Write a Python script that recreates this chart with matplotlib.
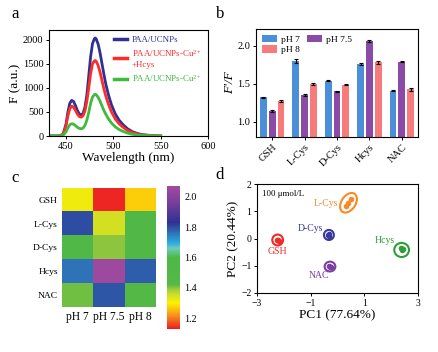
import matplotlib
matplotlib.use("Agg")
import matplotlib.pyplot as plt
import numpy as np
from matplotlib.colors import LinearSegmentedColormap
from matplotlib.patches import Ellipse

plt.rcParams['font.family'] = ['Liberation Serif', 'DejaVu Serif']
plt.rcParams['mathtext.fontset'] = 'custom'
plt.rcParams['mathtext.rm'] = 'Liberation Serif'
plt.rcParams['mathtext.it'] = 'Liberation Serif:italic'

# ---------------- data ----------------
# panel a: fluorescence spectra
wavelength = [430, 440, 444, 447, 450, 452, 454, 456, 458, 460, 462, 464, 466, 468, 470,
              472, 474, 476, 478, 480, 481, 482, 484, 486, 488, 490, 492, 495, 498, 502,
              506, 510, 515, 520, 525, 530, 540, 550]
f_ucnps = [0, 0, 5, 40, 250, 500, 680, 740, 715, 630, 530, 460, 435, 470, 600,
           850, 1250, 1650, 1920, 2020, 2035, 2010, 1900, 1720, 1500, 1280, 1080, 840, 650, 460,
           330, 240, 150, 90, 55, 30, 10, 0]
f_cu_hcys = [0, 0, 4, 35, 210, 420, 570, 620, 600, 530, 455, 405, 390, 420, 520,
             720, 1000, 1300, 1500, 1560, 1565, 1545, 1460, 1320, 1150, 980, 830, 650, 500, 355,
             255, 185, 115, 70, 42, 22, 8, 0]
f_cu = [0, 0, 2, 15, 90, 170, 235, 255, 245, 215, 180, 158, 148, 165, 220,
        330, 490, 680, 810, 860, 865, 855, 800, 720, 625, 530, 450, 350, 270, 190,
        135, 98, 60, 36, 22, 12, 4, 0]
spectra_labels = ["PAA/UCNPs", "PAA/UCNPs-Cu$^{2+}$\n+Hcys", "PAA/UCNPs-Cu$^{2+}$"]

# panel b / c: F'/F ratios
analytes = ["GSH", "L-Cys", "D-Cys", "Hcys", "NAC"]
ph_labels = ["pH 7", "pH 7.5", "pH 8"]
ratio_ph7 = [1.32, 1.80, 1.54, 1.76, 1.41]
ratio_ph75 = [1.14, 1.35, 1.40, 2.06, 1.79]
ratio_ph8 = [1.27, 1.50, 1.49, 1.78, 1.43]
err_ph7 = [0.01, 0.03, 0.01, 0.01, 0.01]
err_ph75 = [0.01, 0.01, 0.01, 0.01, 0.01]
err_ph8 = [0.01, 0.01, 0.01, 0.02, 0.02]

# panel d: PCA scores
pca_names = ["GSH", "L-Cys", "D-Cys", "NAC", "Hcys"]
pc1 = {"GSH": [-2.27, -2.20, -2.18], "L-Cys": [0.30, 0.40, 0.52],
       "D-Cys": [-0.34, -0.30, -0.33], "NAC": [-0.31, -0.26, -0.27],
       "Hcys": [2.35, 2.45, 2.40]}
pc2 = {"GSH": [-0.04, -0.05, -0.08], "L-Cys": [1.18, 1.30, 1.45],
       "D-Cys": [0.12, 0.16, 0.10], "NAC": [-1.02, -1.03, -1.06],
       "Hcys": [-0.36, -0.38, -0.44]}
ellipse_center = {"GSH": (-2.23, -0.055), "L-Cys": (0.41, 1.31), "D-Cys": (-0.32, 0.13),
                  "NAC": (-0.28, -1.03), "Hcys": (2.39, -0.42)}
pca_colors = {"GSH": "#ee2a2a", "L-Cys": "#f7892a", "D-Cys": "#3a3a9e",
              "NAC": "#7a3fa0", "Hcys": "#2f9e3a"}

fig = plt.figure(figsize=(4.38, 3.52), dpi=100)
W, H = 438.0, 352.0

def rect(l, t, r, b):
    return [l / W, 1 - b / H, (r - l) / W, (b - t) / H]

tick_fs = 7.5
lab_fs = 9.5

# ---------------- panel a ----------------
axa = fig.add_axes(rect(49, 30, 208, 136))
cols_a = ["#2e3192", "#ff2a2a", "#3dbb3d"]
for y, c, lab in zip([f_ucnps, f_cu_hcys, f_cu], cols_a, spectra_labels):
    axa.plot(wavelength, y, color=c, lw=2.0, label=lab)
axa.set_xlim(432, 600)
axa.set_ylim(0, 2200)
axa.set_xticks([450, 500, 550, 600])
axa.set_yticks([0, 500, 1000, 1500, 2000])
axa.tick_params(labelsize=tick_fs, length=2.5, width=0.7, pad=1.5)
axa.set_xlabel("Wavelength (nm)", fontsize=lab_fs, labelpad=1)
axa.set_ylabel("F (a.u.)", fontsize=lab_fs, labelpad=1)
leg = axa.legend(loc="upper right", frameon=False, fontsize=6.4, handlelength=1.5,
                 handletextpad=0.5, labelspacing=0.45, borderaxespad=0.3)
for t, c in zip(leg.get_texts(), cols_a):
    t.set_color(c)
for l in leg.get_lines():
    l.set_linewidth(2.5)

# ---------------- panel b ----------------
axb = fig.add_axes(rect(256, 29, 418, 137))
x = np.arange(len(analytes))
bw = 0.21
bar_cols = ["#4a8fd8", "#8a4aa6", "#f77b7b"]
handles = []
for off, vals, errs, c, lab in zip([-0.27, 0, 0.27], [ratio_ph7, ratio_ph75, ratio_ph8],
                                   [err_ph7, err_ph75, err_ph8], bar_cols, ph_labels):
    h = axb.bar(x + off, vals, bw, color=c, label=lab, yerr=errs,
                error_kw=dict(ecolor="black", elinewidth=0.8, capsize=1.2, capthick=0.8))
    handles.append(h)
axb.set_xlim(-0.5, 4.5)
axb.set_ylim(0.8, 2.22)
axb.set_yticks([1.0, 1.5, 2.0])
axb.set_xticks(x)
axb.set_xticklabels(analytes, rotation=45, ha="right", rotation_mode="anchor")
axb.tick_params(labelsize=tick_fs, length=2.5, width=0.7, pad=1.5)
axb.set_ylabel("F'/F", fontsize=lab_fs, style="italic", labelpad=1)
axb.legend([handles[0], handles[2], handles[1]], [ph_labels[0], ph_labels[2], ph_labels[1]],
           loc="upper left", ncol=2, frameon=False, fontsize=6.8, handlelength=1.6,
           handleheight=0.8, columnspacing=0.8, handletextpad=0.4, labelspacing=0.2,
           borderaxespad=0.2)

# ---------------- panel c ----------------
axc = fig.add_axes(rect(62, 188, 156, 307))
data = np.array([ratio_ph7, ratio_ph75, ratio_ph8]).T
vmin, vmax = 1.13, 2.07
nodes = [(1.13, "#ed1c24"), (1.22, "#f7941d"), (1.30, "#fff200"), (1.36, "#c8dc2c"),
         (1.40, "#8cc63f"), (1.42, "#55b947"), (1.60, "#4db848"), (1.66, "#6dcbb8"),
         (1.70, "#27aae1"), (1.76, "#2f73b8"), (1.83, "#2e3192"), (1.97, "#7b3f9d"),
         (2.07, "#a04a9e")]
cmap = LinearSegmentedColormap.from_list(
    "custom", [((v - vmin) / (vmax - vmin), c) for v, c in nodes])
im = axc.imshow(data, cmap=cmap, vmin=vmin, vmax=vmax, aspect="auto")
axc.set_xticks(range(3))
axc.set_xticklabels(ph_labels, fontsize=8.3)
axc.set_yticks(range(5))
axc.set_yticklabels(analytes, fontsize=6.8)
axc.tick_params(length=0, pad=3)
for s in axc.spines.values():
    s.set_visible(False)
cax = fig.add_axes(rect(167, 186, 180, 329))
cb = fig.colorbar(im, cax=cax, ticks=[1.2, 1.4, 1.6, 1.8, 2.0])
cb.outline.set_visible(False)
cb.ax.tick_params(labelsize=7.2, length=0, pad=3)
cb.ax.set_yticklabels(["1.2", "1.4", "1.6", "1.8", "2.0"])

# ---------------- panel d ----------------
axd = fig.add_axes(rect(257, 184, 418, 293))
ell_size = {"GSH": (0.40, 0.40, 0), "L-Cys": (0.80, 0.52, 55), "D-Cys": (0.37, 0.37, 0),
            "NAC": (0.40, 0.36, 0), "Hcys": (0.55, 0.52, 0)}
for name in pca_names:
    c = pca_colors[name]
    axd.scatter(pc1[name], pc2[name], s=9, color=c, zorder=3)
    w, h, ang = ell_size[name]
    axd.add_patch(Ellipse(ellipse_center[name], w, h, angle=ang, fill=False,
                          edgecolor=c, lw=1.5))
axd.text(-2.82, 1.62, "100 μmol/L", fontsize=6.3, va="center", ha="left")
axd.text(0.02, 1.29, "L-Cys", fontsize=7, color=pca_colors["L-Cys"], ha="right", va="center")
axd.text(-0.52, 0.35, "D-Cys", fontsize=7, color=pca_colors["D-Cys"], ha="right", va="center")
axd.text(-2.23, -0.46, "GSH", fontsize=7, color=pca_colors["GSH"], ha="center", va="center")
axd.text(1.77, -0.09, "Hcys", fontsize=7, color=pca_colors["Hcys"], ha="center", va="center")
axd.text(-0.71, -1.36, "NAC", fontsize=7, color=pca_colors["NAC"], ha="center", va="center")
axd.set_xlim(-3, 3)
axd.set_ylim(-2, 2)
axd.set_xticks([-3, -1, 1, 3])
axd.set_yticks([-2, -1, 0, 1, 2])
axd.tick_params(labelsize=7, length=2.5, width=0.7, pad=1.5)
axd.set_xlabel("PC1 (77.64%)", fontsize=lab_fs, labelpad=1)
axd.set_ylabel("PC2 (20.44%)", fontsize=lab_fs, labelpad=1)

for ax in [axa, axb, axd]:
    for s in ax.spines.values():
        s.set_linewidth(0.8)

# panel letters
for lx, ly, letter in [(15, 14, "a"), (220, 14, "b"), (15, 178, "c"), (220, 175, "d")]:
    fig.text(lx / W, 1 - ly / H, letter, fontsize=12, ha="center", va="center")

fig.savefig("out.png", dpi=100)
